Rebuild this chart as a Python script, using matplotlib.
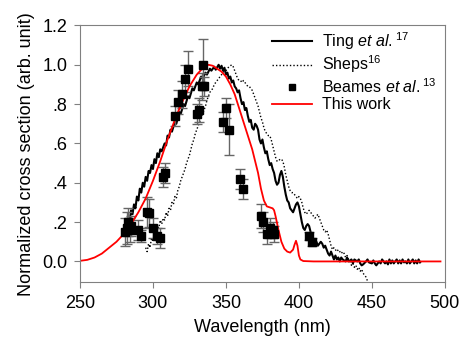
import matplotlib
matplotlib.use("Agg")
import matplotlib.pyplot as plt
from matplotlib.lines import Line2D
from matplotlib.ticker import FixedLocator

plt.rcParams["font.family"] = ["Liberation Sans", "DejaVu Sans"]
plt.rcParams["mathtext.fontset"] = "custom"
plt.rcParams["mathtext.rm"] = "Liberation Sans"
plt.rcParams["mathtext.it"] = "Liberation Sans:italic"

# Ting et al. (solid black)
ting_x = [280, 281, 282, 283, 284, 285, 286, 287, 288, 289, 290, 291, 292, 293, 294, 295, 296, 297, 298, 299,
          300, 301, 302, 303, 304, 305, 306, 308, 309, 310, 311, 312, 313, 315, 316, 318, 319, 321, 322, 324,
          325, 327, 328, 330, 331, 333, 334, 336, 337, 339, 340, 342, 343, 345, 346, 347, 348, 349, 350, 351,
          352, 353, 354, 355, 356, 357, 358, 359, 360, 361, 362, 363, 364, 365, 366, 367, 368, 369, 370, 371,
          372, 373, 374, 375, 376, 377, 378, 379, 380, 381, 382, 383, 384, 385, 386, 387, 388, 389, 390, 391,
          392, 393, 394, 395, 396, 397, 398, 399, 400, 401, 402, 403, 404, 405, 406, 407, 408, 409, 410, 411,
          412, 413, 414, 415, 416, 417, 418, 419, 420, 421, 422, 423, 424, 425, 426, 427, 428, 429, 430, 432,
          433, 434, 436, 437, 438, 440, 441, 442, 443, 444, 446, 447, 448, 450, 451, 452, 453, 454, 455, 456,
          457, 458, 459, 460, 461, 462, 463, 464, 465, 466, 467, 468, 469, 470, 471, 472, 473, 474, 475, 476,
          477, 478, 479, 480, 481, 482, 483]
ting_y = [0.15, 0.19, 0.17, 0.22, 0.20, 0.26, 0.24, 0.29, 0.27, 0.33, 0.31, 0.37, 0.35, 0.40, 0.38, 0.43, 0.41, 0.46, 0.45, 0.49,
          0.47, 0.52, 0.50, 0.55, 0.53, 0.57, 0.56, 0.60, 0.59, 0.64, 0.63, 0.67, 0.66, 0.71, 0.70, 0.76, 0.75, 0.80, 0.79, 0.84,
          0.83, 0.88, 0.87, 0.91, 0.90, 0.94, 0.93, 0.96, 0.95, 0.98, 0.97, 0.99, 0.975, 1.0, 0.98, 0.995, 0.97, 0.985, 0.95, 0.96,
          0.93, 0.94, 0.91, 0.92, 0.89, 0.88, 0.86, 0.87, 0.83, 0.80, 0.81, 0.77, 0.78, 0.74, 0.71, 0.72, 0.68, 0.67, 0.70, 0.69,
          0.67, 0.62, 0.60, 0.62, 0.58, 0.55, 0.56, 0.52, 0.49, 0.50, 0.47, 0.45, 0.41, 0.39, 0.40, 0.44, 0.46, 0.43, 0.38, 0.34,
          0.31, 0.30, 0.27, 0.26, 0.25, 0.27, 0.29, 0.30, 0.28, 0.24, 0.20, 0.17, 0.16, 0.18, 0.19, 0.18, 0.15, 0.13, 0.11, 0.09,
          0.10, 0.08, 0.09, 0.10, 0.09, 0.07, 0.08, 0.06, 0.04, 0.03, 0.05, 0.03, 0.01, 0.03, 0.01, 0.02, 0.00, 0.02, 0.01, 0.00,
          0.02, 0.00, 0.01, -0.01, 0.01, 0.00, 0.01, -0.01, -0.02, -0.015, 0.0, 0.01, -0.005, -0.01, 0.005, -0.01, -0.02, -0.01, 0.0, -0.01,
          0.01, 0.0, -0.01, 0.0, -0.015, 0.01, -0.01, 0.005, -0.01, 0.0, 0.01, -0.01, 0.005, -0.01, 0.01, -0.005, 0.0, -0.01, 0.01, -0.01,
          0.0, 0.01, -0.01, 0.005, -0.01, 0.01, -0.005]

# Sheps (dotted)
sheps_x = list(range(295, 448))
sheps_y = [0.07, 0.05, 0.09, 0.07, 0.12, 0.10, 0.15, 0.13, 0.18, 0.17, 0.21, 0.19, 0.22, 0.21, 0.25, 0.23, 0.27, 0.26, 0.30, 0.29,
           0.33, 0.32, 0.36, 0.38, 0.41, 0.43, 0.45, 0.47, 0.50, 0.52, 0.54, 0.57, 0.60, 0.62, 0.65, 0.67, 0.69, 0.71, 0.73, 0.75,
           0.77, 0.79, 0.82, 0.84, 0.86, 0.87, 0.88, 0.90, 0.91, 0.92, 0.93, 0.94, 0.95, 0.96, 0.97, 0.97, 0.98, 0.99, 0.995, 1.0,
           0.99, 0.97, 0.95, 0.93, 0.92, 0.92, 0.91, 0.92, 0.91, 0.90, 0.89, 0.89, 0.88, 0.87, 0.85, 0.83, 0.81, 0.79, 0.76, 0.73,
           0.71, 0.68, 0.66, 0.65, 0.64, 0.64, 0.62, 0.59, 0.56, 0.53, 0.51, 0.51, 0.52, 0.52, 0.51, 0.48, 0.44, 0.41, 0.38, 0.36,
           0.35, 0.35, 0.34, 0.33, 0.32, 0.33, 0.32, 0.30, 0.27, 0.25, 0.24, 0.25, 0.26, 0.25, 0.24, 0.23, 0.22, 0.23, 0.24, 0.22,
           0.20, 0.18, 0.16, 0.15, 0.16, 0.14, 0.11, 0.08, 0.06, 0.07, 0.06, 0.05, 0.06, 0.05, 0.04, 0.05, 0.04, 0.02, 0.03, 0.01,
           0.0, -0.02, -0.01, -0.03, -0.02, -0.04, -0.03, -0.05, -0.04, -0.06, -0.07, -0.08, -0.10]

# Beames et al. (squares with error bars)
beames_x = [281, 282, 283, 284, 285, 290, 292, 296, 297, 300, 303, 305, 307, 308, 315, 317, 320, 322, 324,
            330, 331.5, 333.5, 335, 334, 348, 350, 352, 359.6, 361.6, 374, 375.3, 378, 380, 382, 383, 407, 409]
beames_y = [0.15, 0.17, 0.20, 0.16, 0.18, 0.16, 0.13, 0.25, 0.245, 0.17, 0.13, 0.12, 0.43, 0.45, 0.74, 0.81, 0.85, 0.93, 0.98,
            0.75, 0.77, 0.89, 0.89, 1.0, 0.71, 0.78, 0.67, 0.42, 0.37, 0.23, 0.20, 0.14, 0.17, 0.16, 0.14, 0.13, 0.10]
beames_err = [0.07, 0.08, 0.07, 0.06, 0.05, 0.05, 0.03, 0.08, 0.07, 0.05, 0.04, 0.05, 0.05, 0.05, 0.05, 0.06, 0.07, 0.07, 0.09,
              0.05, 0.06, 0.07, 0.05, 0.13, 0.05, 0.05, 0.13, 0.05, 0.05, 0.06, 0.05, 0.05, 0.05, 0.04, 0.04, 0.02, 0.02]

# This work (red)
work_x = [250, 255, 260, 265, 270, 275, 280, 285, 290, 295, 300, 305, 310, 315, 320, 325, 330, 335, 338, 341,
          344, 347, 350, 353, 356, 359, 362, 365, 368, 370, 372, 374, 376, 378, 380, 382, 383, 384, 386, 388,
          390, 392, 394, 396, 397, 398, 399, 400, 401, 403, 410, 450, 497]
work_y = [0.003, 0.008, 0.02, 0.04, 0.07, 0.10, 0.14, 0.19, 0.25, 0.32, 0.41, 0.51, 0.62, 0.72, 0.81, 0.89, 0.95, 0.99, 1.0, 0.995,
          0.98, 0.965, 0.94, 0.90, 0.85, 0.78, 0.71, 0.64, 0.57, 0.51, 0.45, 0.37, 0.31, 0.28, 0.275, 0.27, 0.26, 0.23, 0.16, 0.10,
          0.065, 0.05, 0.045, 0.06, 0.085, 0.105, 0.08, 0.03, 0.01, 0.002, 0.0, 0.0, 0.0]

x_ticks = [250, 300, 350, 400, 450, 500]
y_ticks = [0.0, 0.2, 0.4, 0.6, 0.8, 1.0, 1.2]
y_labels = ["0.0", ".2", ".4", ".6", ".8", "1.0", "1.2"]

fig = plt.figure(figsize=(4.61, 3.44), dpi=100)
ax = fig.add_axes([0.1735, 0.18, 0.7915, 0.746])

ax.plot(ting_x, ting_y, color="black", lw=1.5)
ax.plot(sheps_x, sheps_y, color="black", lw=1.0, ls=(0, (1, 1.5)))
ax.errorbar(beames_x, beames_y, yerr=beames_err, fmt="s", color="black", ms=5.5,
            ecolor="#666666", elinewidth=1.0, capsize=3.5, capthick=1.0)
ax.plot(work_x, work_y, color="red", lw=1.3)

ax.set_xlim(250, 500)
ax.set_ylim(-0.105, 1.2)
ax.xaxis.set_major_locator(FixedLocator(x_ticks))
ax.yaxis.set_major_locator(FixedLocator(y_ticks))
ax.set_yticklabels(y_labels)

for side in ["top", "right", "left", "bottom"]:
    ax.spines[side].set_color("#808080")
ax.tick_params(direction="out", length=4, color="#808080", labelsize=13, pad=5)

ax.set_xlabel("Wavelength (nm)", fontsize=13, labelpad=5)
ax.set_ylabel("Normalized cross section (arb. unit)", fontsize=13, labelpad=5)

handles = [
    Line2D([], [], color="black", lw=1.5),
    Line2D([], [], color="black", lw=1.0, ls=(0, (1, 1.5))),
    Line2D([], [], color="black", ls="none", marker="s", ms=4.5),
    Line2D([], [], color="red", lw=1.3),
]
labels = [r"Ting $\it{et\ al.}$$^{17}$", r"Sheps$^{16}$", r"Beames $\it{et\ al.}$$^{13}$", "This work"]
ax.legend(handles, labels, loc="upper right", bbox_to_anchor=(0.99, 1.0), frameon=False,
          fontsize=11.5, handlelength=2.5, labelspacing=0.1, handletextpad=0.6,
          borderaxespad=0.0, borderpad=0.3)

fig.savefig("out.png", dpi=100)
